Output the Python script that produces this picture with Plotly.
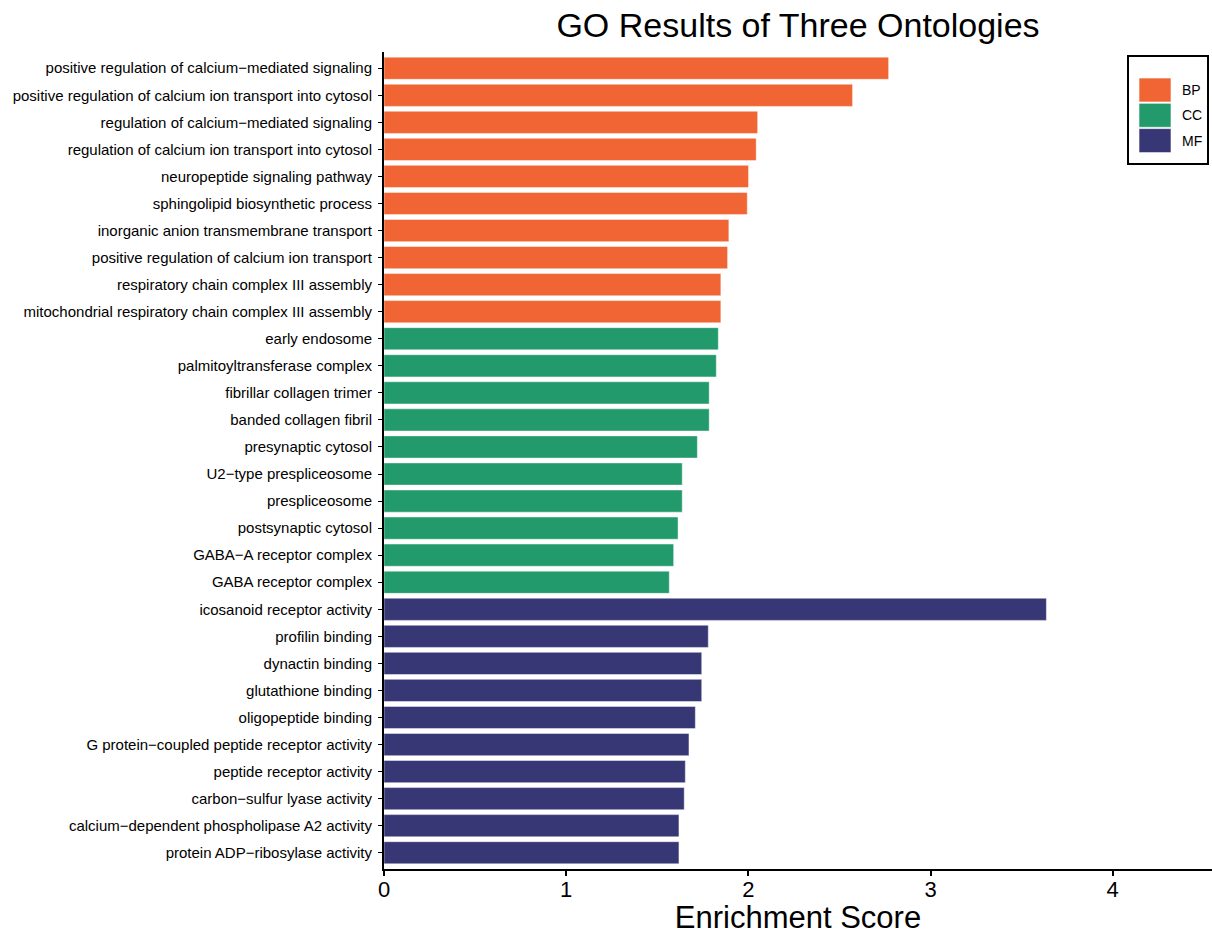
import plotly.graph_objects as go

# GO terms and enrichment scores per ontology (top to bottom)
bp_terms = [
    "positive regulation of calcium−mediated signaling",
    "positive regulation of calcium ion transport into cytosol",
    "regulation of calcium−mediated signaling",
    "regulation of calcium ion transport into cytosol",
    "neuropeptide signaling pathway",
    "sphingolipid biosynthetic process",
    "inorganic anion transmembrane transport",
    "positive regulation of calcium ion transport",
    "respiratory chain complex III assembly",
    "mitochondrial respiratory chain complex III assembly",
]
bp_scores = [2.770, 2.572, 2.051, 2.043, 2.001, 1.994, 1.893, 1.886, 1.849, 1.849]

cc_terms = [
    "early endosome",
    "palmitoyltransferase complex",
    "fibrillar collagen trimer",
    "banded collagen fibril",
    "presynaptic cytosol",
    "U2−type prespliceosome",
    "prespliceosome",
    "postsynaptic cytosol",
    "GABA−A receptor complex",
    "GABA receptor complex",
]
cc_scores = [1.835, 1.824, 1.785, 1.785, 1.720, 1.637, 1.637, 1.614, 1.590, 1.566]

mf_terms = [
    "icosanoid receptor activity",
    "profilin binding",
    "dynactin binding",
    "glutathione binding",
    "oligopeptide binding",
    "G protein−coupled peptide receptor activity",
    "peptide receptor activity",
    "carbon−sulfur lyase activity",
    "calcium−dependent phospholipase A2 activity",
    "protein ADP−ribosylase activity",
]
mf_scores = [3.636, 1.780, 1.744, 1.744, 1.709, 1.674, 1.654, 1.648, 1.619, 1.619]

ontologies = ["BP", "CC", "MF"]
ont_colors = ["#F06533", "#229A6B", "#383775"]

FONT = "Liberation Sans, Arial, Helvetica, sans-serif"
W, H = 1212, 935
ML, MR, MT, MB = 384, 0, 52, 66

all_terms = bp_terms + cc_terms + mf_terms
max_score = max(bp_scores + cc_scores + mf_scores)

fig = go.Figure()
for name, terms, scores, col in zip(
    ontologies, [bp_terms, cc_terms, mf_terms], [bp_scores, cc_scores, mf_scores], ont_colors
):
    fig.add_trace(go.Bar(
        y=terms, x=scores, orientation="h", name=name, width=0.82,
        marker=dict(color=col, line=dict(color="rgba(255,255,255,0.45)", width=1)),
        showlegend=False,
    ))


def px_x(p):
    return (p - ML) / (W - ML - MR)


def px_y(p):
    return 1 - (p - MT) / (H - MT - MB)


# boxed legend in the top-right corner of the panel
shapes = [dict(type="rect", xref="paper", yref="paper",
               x0=px_x(1128), x1=px_x(1208), y0=px_y(164), y1=px_y(56),
               line=dict(color="black", width=2), fillcolor="white", layer="above")]
annotations = []
for i, (name, col) in enumerate(zip(ontologies, ont_colors)):
    top = 78 + i * 25.3
    shapes.append(dict(type="rect", xref="paper", yref="paper",
                       x0=px_x(1139), x1=px_x(1171), y0=px_y(top + 24), y1=px_y(top),
                       line=dict(color="rgba(255,255,255,0.6)", width=1), fillcolor=col,
                       layer="above"))
    annotations.append(dict(xref="paper", yref="paper", x=px_x(1180), y=px_y(top + 12),
                            text=name, showarrow=False, xanchor="left", yanchor="middle",
                            font=dict(family=FONT, size=14, color="black")))

fig.update_layout(
    width=W, height=H,
    margin=dict(l=ML, r=MR, t=MT, b=MB, pad=0),
    paper_bgcolor="white", plot_bgcolor="white",
    title=dict(text="GO Results of Three Ontologies", x=0.5, xref="paper",
               y=1 - 25 / H, yref="container", yanchor="middle", xanchor="center",
               font=dict(family=FONT, size=34, color="black")),
    bargap=0.18,
    shapes=shapes, annotations=annotations,
    font=dict(family=FONT, color="black"),
)
fig.update_xaxes(
    range=[0, max_score * 1.25], tickvals=[0, 1, 2, 3, 4],
    showgrid=False, zeroline=False,
    showline=True, linecolor="black", linewidth=2,
    ticks="outside", ticklen=5, tickwidth=1.5, tickcolor="black",
    ticklabelstandoff=-5,
    tickfont=dict(family=FONT, size=22, color="black"),
    title=dict(text="Enrichment Score", standoff=5,
               font=dict(family=FONT, size=31, color="black")),
)
fig.update_yaxes(
    categoryorder="array", categoryarray=all_terms[::-1],
    range=[-0.6, len(all_terms) - 0.4],
    showgrid=False, zeroline=False,
    showline=True, linecolor="black", linewidth=2,
    ticks="outside", ticklen=4, tickwidth=1.2, tickcolor="black",
    ticklabelstandoff=3,
    tickfont=dict(family=FONT, size=15, color="black"),
)

fig.write_html("out.html")
